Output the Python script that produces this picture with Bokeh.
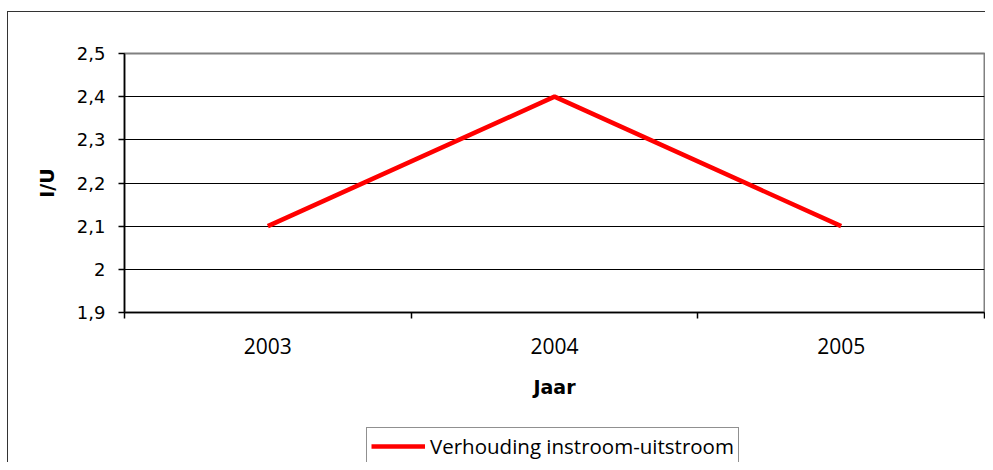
from bokeh.plotting import figure
from bokeh.layouts import column
from bokeh.models import FixedTicker, Legend, LegendItem, Range1d
from bokeh.embed import file_html
from bokeh.resources import INLINE

years = ["2003", "2004", "2005"]
ratio = [2.1, 2.4, 2.1]
series_name = "Verhouding instroom-uitstroom"
y_ticks = [1.9, 2.0, 2.1, 2.2, 2.3, 2.4, 2.5]
y_tick_labels = ["1,9", "2", "2,1", "2,2", "2,3", "2,4", "2,5"]
x_title = "Jaar"
y_title = "I/U"

x_pos = [i + 0.5 for i in range(len(years))]
x_bounds = list(range(len(years) + 1))

LINE_COLOR = "#FF0000"
LINE_WIDTH = 4.5

p = figure(width=985, height=420, output_backend="svg", toolbar_location=None,
           x_range=Range1d(0, len(years)), y_range=Range1d(y_ticks[0], y_ticks[-1]),
           min_border_left=124, min_border_right=1, min_border_top=53,
           min_border_bottom=108)
p.background_fill_color = "white"
p.border_fill_color = None
p.outline_line_color = "#808080"
p.outline_line_width = 2

# x axis
xa = p.xaxis[0]
xa.ticker = FixedTicker(ticks=x_pos, minor_ticks=x_bounds)
xa.major_label_overrides = {x: y for x, y in zip(x_pos, years)}
xa.major_tick_out = 0
xa.major_tick_in = 0
xa.minor_tick_out = 6
xa.minor_tick_in = 0
xa.minor_tick_line_color = "black"
xa.minor_tick_line_width = 1.5
xa.axis_line_color = "black"
xa.axis_line_width = 1.5
xa.major_label_text_font = "Open Sans"
xa.major_label_text_font_size = "21px"
xa.major_label_text_color = "black"
xa.major_label_standoff = 19
xa.axis_label = x_title
xa.axis_label_text_font = "DejaVu Sans"
xa.axis_label_text_font_style = "bold"
xa.axis_label_text_font_size = "19px"
xa.axis_label_text_color = "black"
xa.axis_label_standoff = 19

# y axis
ya = p.yaxis[0]
ya.ticker = FixedTicker(ticks=y_ticks)
ya.major_label_overrides = {t: l for t, l in zip(y_ticks, y_tick_labels)}
ya.major_tick_out = 6
ya.major_tick_in = 0
ya.major_tick_line_color = "black"
ya.major_tick_line_width = 1.5
ya.minor_tick_line_color = None
ya.axis_line_color = "black"
ya.axis_line_width = 1.5
ya.major_label_text_font = "DejaVu Sans"
ya.major_label_text_font_size = "18px"
ya.major_label_text_color = "black"
ya.major_label_standoff = 13
ya.axis_label = y_title
ya.axis_label_text_font = "DejaVu Sans"
ya.axis_label_text_font_style = "bold"
ya.axis_label_text_font_size = "19px"
ya.axis_label_text_color = "black"
ya.axis_label_standoff = 16

p.xgrid.grid_line_color = None
p.ygrid.ticker = FixedTicker(ticks=y_ticks[1:-1])
p.ygrid.grid_line_color = "black"
p.ygrid.grid_line_width = 1

p.line(x_pos, ratio, line_color=LINE_COLOR, line_width=LINE_WIDTH)

# legend strip below the chart
pl = figure(width=985, height=42, output_backend="svg", toolbar_location=None,
            x_axis_location=None, y_axis_location=None,
            x_range=Range1d(0, len(years)), y_range=Range1d(y_ticks[0], y_ticks[-1]),
            min_border=0)
pl.grid.visible = False
pl.background_fill_color = None
pl.border_fill_color = None
pl.outline_line_color = None
rl = pl.line(x_pos, ratio, line_color=LINE_COLOR, line_width=LINE_WIDTH, visible=False)

legend = Legend(items=[LegendItem(label=series_name, renderers=[rl])],
                location=(242, -3), orientation="vertical",
                glyph_width=54, glyph_height=20, label_standoff=5,
                padding=4, spacing=0, margin=0,
                border_line_color="#222222", border_line_width=1,
                background_fill_color="white", background_fill_alpha=1,
                inactive_fill_alpha=0,
                label_text_font="Open Sans", label_text_font_size="20.5px",
                label_text_color="black")
pl.add_layout(legend)

layout = column(p, pl, spacing=0)
# outer chart border (left and top edges visible, rest cut off as in the reference)
layout.styles = {
    "background": "linear-gradient(#333333, #333333) 7px 11px / 1px 100% no-repeat, "
                  "linear-gradient(#333333, #333333) 7px 11px / 100% 1px no-repeat, white"
}

open("out.html", "w").write(file_html(layout, INLINE))
